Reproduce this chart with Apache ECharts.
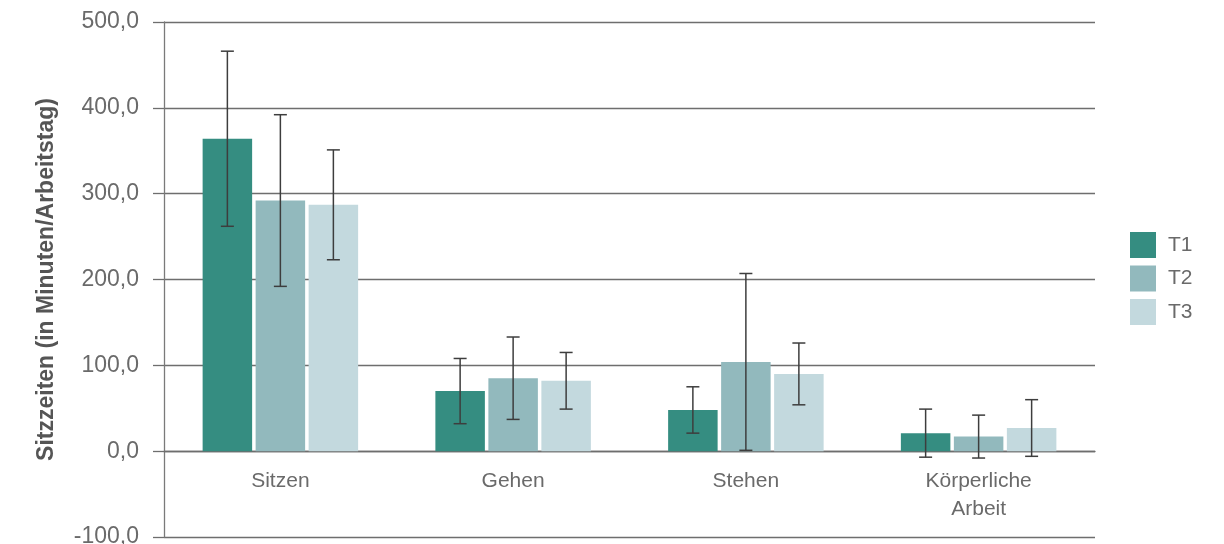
<!DOCTYPE html>
<html>
<head>
<meta charset="utf-8">
<script src="https://cdn.jsdelivr.net/npm/echarts@6/dist/echarts.min.js"></script>
<style>
  html, body { margin: 0; padding: 0; background: #fff; }
  #chart { width: 1224px; height: 544px; }
</style>
</head>
<body>
<div id="chart"></div>
<script>
// Activity categories
const categories = ['Sitzen', 'Gehen', 'Stehen', 'Körperliche\nArbeit'];
// Mean minutes per working day at each measurement time
const seriesNames = ['T1', 'T2', 'T3'];
const t1Values = [364, 70, 48, 21];
const t2Values = [292, 85, 104, 17];
const t3Values = [287, 82, 90, 27];
// Standard deviations
const t1Errors = [102, 38, 27, 28];
const t2Errors = [100, 48, 103, 25];
const t3Errors = [64, 33, 36, 33];
// Y axis ticks
const yMin = -100, yMax = 500, yStep = 100;

const colors = ['#358d81', '#92b9bd', '#c3d9de'];
const values = [t1Values, t2Values, t3Values];
const errors = [t1Errors, t2Errors, t3Errors];

const WIDTH = 1224, HEIGHT = 544;
const GRID = { left: 164, right: 129, top: 22, bottom: 7 };
const BAR_WIDTH = 49.5;
const BAR_GAP = 3.5;
const FONT = '"Liberation Sans", Arial, sans-serif';

// Category axis sits on the zero line: shift it up from the grid bottom
const plotHeight = HEIGHT - GRID.top - GRID.bottom;
const zeroOffset = -plotHeight * (0 - yMin) / (yMax - yMin);

const chart = echarts.init(document.getElementById('chart'), null, { renderer: 'canvas' });

function errorSeries(idx) {
  const offset = (idx - 1) * (BAR_WIDTH + BAR_GAP);
  return {
    type: 'custom',
    name: seriesNames[idx] + ' SD',
    z: 10,
    silent: true,
    data: categories.map((c, i) => [i, values[idx][i] - errors[idx][i], values[idx][i] + errors[idx][i]]),
    renderItem: function (params, api) {
      const cx = api.coord([api.value(0), 0])[0] + offset;
      const lo = api.coord([api.value(0), api.value(1)])[1];
      const hi = api.coord([api.value(0), api.value(2)])[1];
      const half = 6.5;
      const style = { stroke: '#3d3d3d', lineWidth: 1.5 };
      return {
        type: 'group',
        children: [
          { type: 'line', shape: { x1: cx, y1: lo, x2: cx, y2: hi }, style: style },
          { type: 'line', shape: { x1: cx - half, y1: hi, x2: cx + half, y2: hi }, style: style },
          { type: 'line', shape: { x1: cx - half, y1: lo, x2: cx + half, y2: lo }, style: style }
        ]
      };
    }
  };
}

const option = {
  animation: false,
  textStyle: { fontFamily: FONT },
  grid: Object.assign({ containLabel: false, outerBoundsMode: 'none' }, GRID),
  legend: {
    orient: 'vertical',
    left: 1125,
    top: 227,
    itemWidth: 26,
    itemHeight: 26,
    itemGap: 7.5,
    data: seriesNames,
    textStyle: { fontSize: 21, color: '#6a6a6a', fontFamily: FONT, padding: [0, 0, 0, 7] },
    icon: 'rect'
  },
  xAxis: {
    type: 'category',
    data: categories,
    offset: zeroOffset,
    axisLine: { onZero: false, lineStyle: { color: '#6e6e6e', width: 1.3 } },
    axisTick: { show: false },
    axisLabel: { fontSize: 21, color: '#6a6a6a', margin: 16, lineHeight: 28, fontFamily: FONT },
    splitLine: { show: false }
  },
  yAxis: {
    type: 'value',
    min: yMin,
    max: yMax,
    interval: yStep,
    name: 'Sitzzeiten (in Minuten/Arbeitstag)',
    nameLocation: 'middle',
    nameGap: 106,
    nameRotate: 90,
    nameTextStyle: { fontSize: 23, fontWeight: 'bold', color: '#555555', fontFamily: FONT },
    axisLine: { show: true, lineStyle: { color: '#7a7a7a', width: 1.3 } },
    axisTick: { show: true, length: 11, lineStyle: { color: '#6e6e6e', width: 1.3 } },
    axisLabel: {
      fontSize: 23,
      color: '#6a6a6a',
      margin: 25,
      fontFamily: FONT,
      formatter: v => v.toFixed(1).replace('.', ',')
    },
    splitLine: { show: true, lineStyle: { color: '#6e6e6e', width: 1.3 } }
  },
  series: seriesNames.map((name, idx) => ({
    type: 'bar',
    name: name,
    data: values[idx],
    barWidth: BAR_WIDTH,
    barGap: (BAR_GAP / BAR_WIDTH * 100) + '%',
    itemStyle: { color: colors[idx] }
  })).concat([0, 1, 2].map(errorSeries))
};

chart.setOption(option);
</script>
</body>
</html>
